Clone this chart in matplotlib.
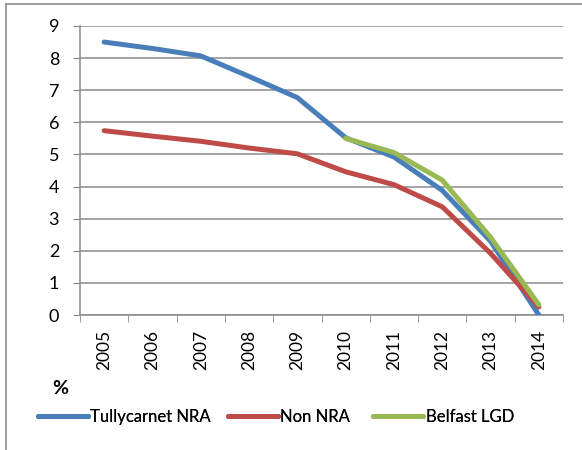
import matplotlib
matplotlib.use("Agg")
import matplotlib.pyplot as plt
from matplotlib.lines import Line2D
import numpy as np

years = ["2005", "2006", "2007", "2008", "2009", "2010", "2011", "2012", "2013", "2014"]
tullycarnet = [8.5, 8.3, 8.07, 7.43, 6.77, 5.52, 4.92, 3.88, 2.3, 0.0]
non_nra = [5.74, 5.57, 5.41, 5.2, 5.02, 4.46, 4.06, 3.37, 1.92, 0.25]
belfast = [np.nan, np.nan, np.nan, np.nan, np.nan, 5.5, 5.06, 4.2, 2.42, 0.32]
yticks = list(range(0, 10))

plt.rcParams['font.family'] = ['Lato', 'DejaVu Sans']

fig = plt.figure(figsize=(5.82, 4.5), dpi=100)
ax = fig.add_axes([80/582, 1-315/450, (563-80)/582, (315-26)/450])

x = np.arange(len(years))
lw = 3.6
l1, = ax.plot(x, tullycarnet, color="#4A7EBB", lw=lw, solid_capstyle="round", label="Tullycarnet NRA", zorder=3)
l2, = ax.plot(x, non_nra, color="#BE4B48", lw=lw, solid_capstyle="round", label="Non NRA", zorder=3)
l3, = ax.plot(x, belfast, color="#98B954", lw=lw, solid_capstyle="round", label="Belfast LGD", zorder=4)

ax.set_xlim(-0.5, len(years) - 0.5)
ax.set_ylim(0, 9)
ax.set_yticks(yticks)
ax.set_yticklabels([str(v) for v in yticks], fontsize=13)
ax.set_xticks(x)
ax.set_xticklabels(years, rotation=90, fontsize=12.5)
ax.set_xticks(np.arange(-0.5, len(years)), minor=True)
ax.tick_params(axis="x", which="major", length=0, pad=11)
ax.tick_params(axis="x", which="minor", length=5, color="#888888")
ax.tick_params(axis="y", length=5, color="#888888", pad=10)
ax.grid(axis="y", color="#8c8c8c", lw=1.1)
ax.set_axisbelow(True)
for s in ["top", "right"]:
    ax.spines[s].set_visible(False)
for s in ["left", "bottom"]:
    ax.spines[s].set_color("#888888")
    ax.spines[s].set_linewidth(1.1)

fig.text(52/582, 1-388/450, "%", fontsize=14, fontweight="bold", va="center", ha="left")

for line, xpx in [(l1, 38), (l2, 228), (l3, 373)]:
    leg = fig.legend([line], [line.get_label()], loc="center left",
                     bbox_to_anchor=(xpx/582, 1-417/450), frameon=False, fontsize=12,
                     handlelength=3.0, handletextpad=0.15, borderaxespad=0, borderpad=0)
    fig.add_artist(leg)

fig.add_artist(Line2D([6/582, 1], [1-4/450, 1-4/450], transform=fig.transFigure, color="#8c8c8c", lw=1.2))
fig.add_artist(Line2D([6/582, 6/582], [0, 1-4/450], transform=fig.transFigure, color="#8c8c8c", lw=1.2))

fig.savefig("out.png", dpi=100)
